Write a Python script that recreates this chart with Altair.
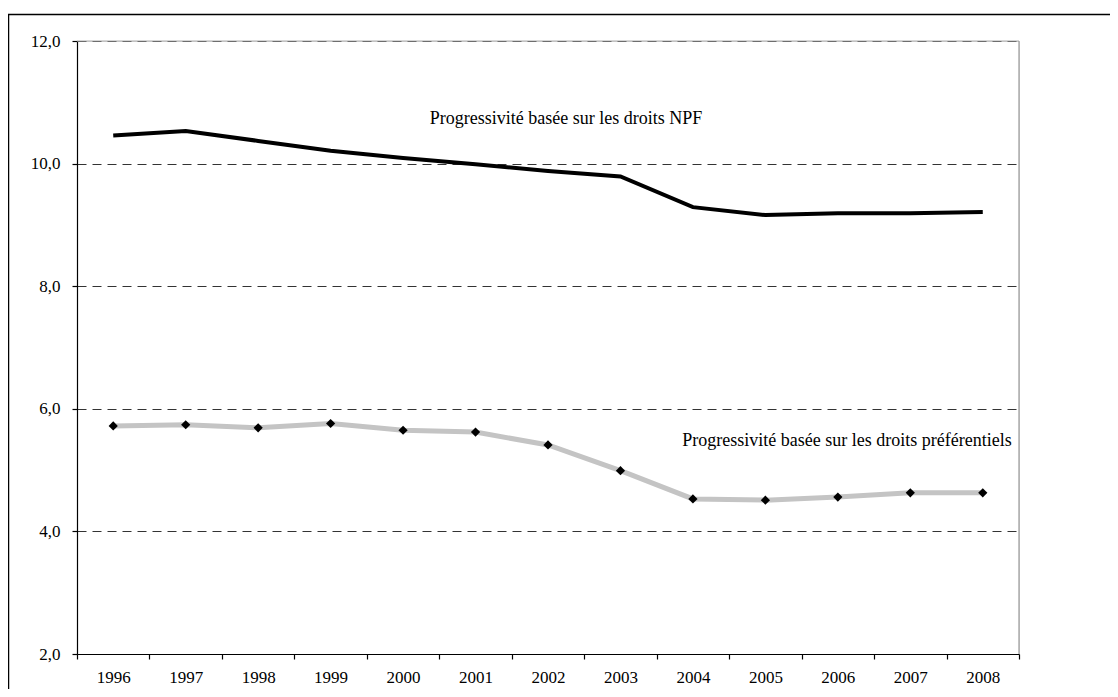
import altair as alt
import pandas as pd

years = [str(y) for y in range(1996, 2009)]
npf = [10.46, 10.53, 10.37, 10.21, 10.09, 9.99, 9.88, 9.79, 9.29, 9.16, 9.19, 9.19, 9.21]
pref = [5.72, 5.74, 5.69, 5.76, 5.65, 5.62, 5.41, 4.99, 4.53, 4.51, 4.56, 4.63, 4.63]
y_ticks = [2, 4, 6, 8, 10, 12]

ann_labels = ["Progressivité basée sur les droits NPF",
              "Progressivité basée sur les droits préférentiels"]
ann_years = ["2002", "2008"]
ann_values = [10.65, 5.39]

df = pd.DataFrame({"year": years, "npf": npf, "pref": pref})
ann = pd.DataFrame({"label": ann_labels, "year": ann_years, "value": ann_values})

FONT = "Liberation Serif"
W, H = 942, 613

x_scale = alt.Scale(type="band", paddingInner=0, paddingOuter=0)
x_axis = alt.Axis(
    title=None, labelAngle=0, tickBand="extent", grid=False,
    domain=True, domainColor="black", domainWidth=1.2,
    ticks=True, tickColor="black", tickSize=5, tickWidth=1.2,
    labelFont=FONT, labelFontSize=17, labelColor="black", labelPadding=10,
    zindex=2,
)
x_enc = alt.X("year:N", scale=x_scale, axis=x_axis)
y_scale = alt.Scale(domain=[2, 12], nice=False, zero=False)
y_axis = alt.Axis(
    title=None, values=y_ticks,
    labelExpr="replace(format(datum.value, '.1f'), '.', ',')",
    domain=True, domainColor="black", domainWidth=1.2,
    ticks=True, tickColor="black", tickSize=5, tickWidth=1.2,
    labelFont=FONT, labelFontSize=17, labelColor="black", labelPadding=12,
    grid=True, gridColor="#333333", gridDash=[9, 6], gridWidth=1,
)

base = alt.Chart(df)
one = pd.DataFrame({"k": [0]})

border = alt.Chart(one).mark_rect(
    filled=False, stroke="black", strokeWidth=1.5
).encode(
    x=alt.value(-68.5), x2=alt.value(1300),
    y=alt.value(-26.5), y2=alt.value(900),
)
frame_right = alt.Chart(one).mark_rule(color="#999999", strokeWidth=1.2).encode(
    x=alt.value(W), y=alt.value(0), y2=alt.value(H)
)
frame_top = alt.Chart(one).mark_rule(color="#aaaaaa", strokeWidth=1).encode(
    x=alt.value(0), x2=alt.value(W), y=alt.value(0)
)

npf_line = base.mark_line(color="black", strokeWidth=4).encode(
    x=x_enc, y=alt.Y("npf:Q", scale=y_scale, axis=y_axis)
)
pref_line = base.mark_line(color="#c4c4c4", strokeWidth=5).encode(
    x=x_enc, y=alt.Y("pref:Q", scale=y_scale, axis=y_axis)
)
pref_pts = base.mark_point(
    shape="diamond", filled=True, color="black", size=85, opacity=1
).encode(x=x_enc, y=alt.Y("pref:Q", scale=y_scale, axis=y_axis))

ann_base = alt.Chart(ann).encode(
    x=alt.X("year:N", scale=x_scale, axis=x_axis),
    y=alt.Y("value:Q", scale=y_scale, axis=y_axis),
    text="label:N",
)
ann_npf = ann_base.transform_filter(alt.datum.year == "2002").mark_text(
    font=FONT, fontSize=18, color="black", align="center",
    baseline="alphabetic", dx=18,
)
ann_pref = ann_base.transform_filter(alt.datum.year == "2008").mark_text(
    font=FONT, fontSize=18, color="black", align="right",
    baseline="alphabetic", dx=29,
)

chart = alt.layer(
    border, frame_top, frame_right, npf_line, pref_line, pref_pts, ann_npf, ann_pref
).properties(
    width=W, height=H,
    autosize=alt.AutoSizeParams(type="none"),
    padding={"left": 69, "top": 33, "right": 91, "bottom": 35},
).configure_view(
    strokeWidth=0
).configure(background="white")

chart.save("out.html", embed_options={"renderer": "svg", "actions": False})
